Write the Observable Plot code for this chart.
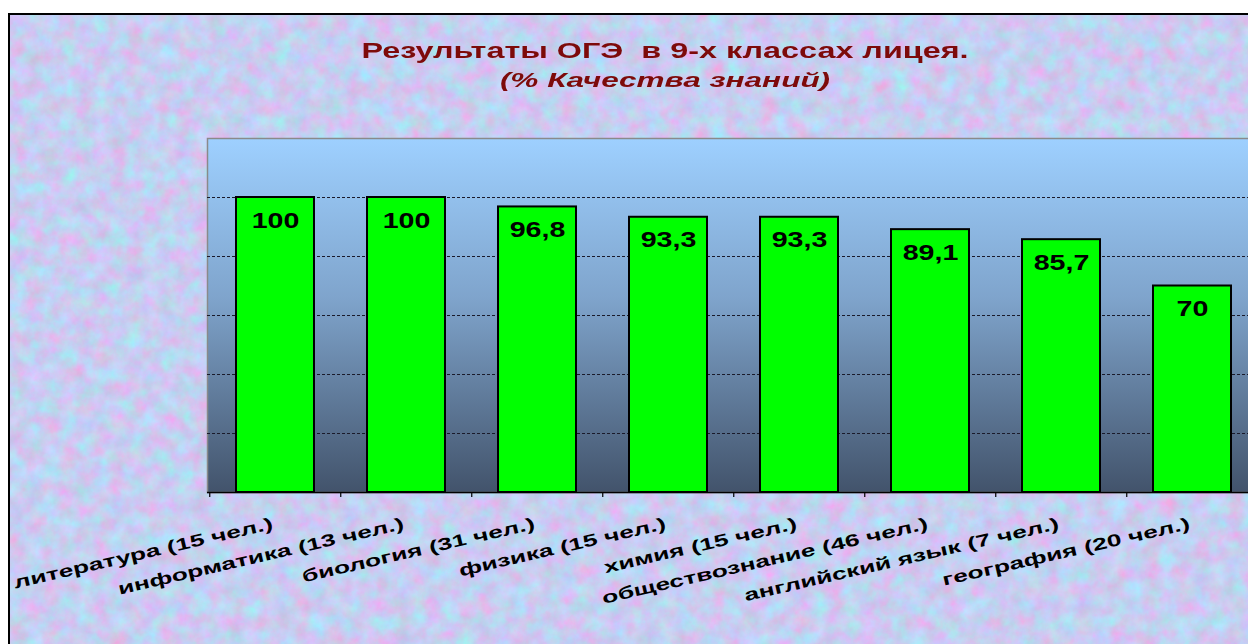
<!DOCTYPE html>
<html>
<head>
<meta charset="utf-8">
<script src="https://cdn.jsdelivr.net/npm/d3@7"></script>
<script src="https://cdn.jsdelivr.net/npm/@observablehq/plot@0.6"></script>
<style>
  html, body { margin: 0; padding: 0; width: 1248px; height: 644px; overflow: hidden; background: #fff; }
  #box {
    position: absolute; left: 8px; top: 13px; width: 1400px; height: 700px;
    border: 2px solid #000;
    background-color: #c6cef0;
    background-image: url("data:image/svg+xml;utf8,<svg xmlns='http://www.w3.org/2000/svg' width='1400' height='700'><filter id='n' x='0' y='0' width='100%' height='100%' color-interpolation-filters='sRGB'><feTurbulence type='fractalNoise' baseFrequency='0.06' numOctaves='5' seed='7'/><feColorMatrix values='0.3 -0.2 0 0 0.73  -0.15 0.27 0 0 0.745  0 0.06 0.15 0 0.84  0 0 0 0 1'/></filter><rect width='1400' height='700' filter='url(%23n)'/></svg>");
  }
  .title {
    position: absolute; left: 0; width: 1330px; text-align: center;
    font-family: "Liberation Sans", Arial, sans-serif; font-weight: bold; color: #7d0a0a;
    white-space: pre; transform-origin: 665px 0;
  }
  #t1 { top: 38px; font-size: 22px; transform: scaleX(1.47); }
  #t2 { top: 68px; font-size: 21px; font-style: italic; transform: scaleX(1.5); }
  #chart { position: absolute; left: 0; top: 0; }
</style>
</head>
<body>
<div id="box"></div>
<div class="title" id="t1">Результаты ОГЭ  в 9-х классах лицея.</div>
<div class="title" id="t2">(% Качества знаний)</div>
<div id="chart"></div>
<script>
const subjects = [
  "литература (15 чел.)",
  "информатика (13 чел.)",
  "биология (31 чел.)",
  "физика (15 чел.)",
  "химия (15 чел.)",
  "обществознание (46 чел.)",
  "английский язык (7 чел.)",
  "география (20 чел.)"
];
const quality = [100, 100, 96.8, 93.3, 93.3, 89.1, 85.7, 70];
const gridTicks = [20, 40, 60, 80, 100];

const data = subjects.map((s, i) => ({subject: s, value: quality[i]}));
const fmt = v => String(v).replace(".", ",");

const W = 1330, H = 644, ML = 207, MR = 71, MT = 138, MB = 152;
const step = (W - ML - MR) / subjects.length;
const pxPerUnit = (H - MT - MB) / 120;
const VALUE_STRETCH = 1.3;
const LABEL_STRETCH = 1.55;
const LABEL_ANGLE = -13;

const chart = Plot.plot({
  width: W, height: H,
  marginLeft: ML, marginRight: MR, marginTop: MT, marginBottom: MB,
  style: {background: "transparent", overflow: "visible", maxWidth: "none"},
  x: {domain: subjects, paddingInner: 0.407, paddingOuter: 0.2035, label: null},
  y: {domain: [0, 120], axis: null},
  marks: [
    Plot.frame({fill: "url(#plotbg)", stroke: "#8a8a8a", strokeWidth: 1.5}),
    Plot.ruleY(gridTicks, {stroke: "#1a1a2a", strokeWidth: 1, strokeDasharray: "3,2"}),
    Plot.barY(data, {x: "subject", y: "value", fill: "#00ff00", stroke: "#000", strokeWidth: 2}),
    Plot.text(data, {x: "subject", y: "value", text: d => fmt(d.value), dy: 23,
      fontSize: 22, fontWeight: "bold", fontFamily: "Liberation Sans", fill: "#000",
      className: "vlabel"}),
    Plot.ruleY([0], {stroke: "#000", strokeWidth: 1.5}),
    Plot.ruleX(subjects, {x: d => d, y1: 0, y2: -5 / pxPerUnit, dx: -step / 2, stroke: "#000", strokeWidth: 1.2}),
    Plot.axisX({tickSize: 0, tickRotate: LABEL_ANGLE, tickPadding: 31, dx: -3,
      fontSize: 17, fontWeight: "bold", fontFamily: "Liberation Sans", fill: "#000", label: null,
      className: "xlabel"})
  ]
});

const svg = d3.select(chart);
const defs = svg.insert("defs", ":first-child");
const g = defs.append("linearGradient").attr("id", "plotbg")
  .attr("x1", 0).attr("y1", 0).attr("x2", 0).attr("y2", 1);
g.append("stop").attr("offset", "0%").attr("stop-color", "#9ed0ff");
g.append("stop").attr("offset", "45%").attr("stop-color", "#7fa4cc");
g.append("stop").attr("offset", "100%").attr("stop-color", "#42536b");

document.getElementById("chart").appendChild(chart);

// horizontally stretch text glyphs along their baseline (as in the reference image)
function stretch(sel, k, angle) {
  sel.each(function() {
    const ctm = this.getCTM();
    const parent = this.parentNode.getCTM();
    const desired = chart.createSVGMatrix().translate(ctm.e, ctm.f).rotate(angle).scaleNonUniform(k, 1);
    const m = parent.inverse().multiply(desired);
    this.setAttribute("transform", `matrix(${m.a},${m.b},${m.c},${m.d},${m.e},${m.f})`);
  });
}
stretch(svg.selectAll(".vlabel text"), VALUE_STRETCH, 0);
stretch(svg.selectAll(".xlabel text"), LABEL_STRETCH, LABEL_ANGLE);
</script>
</body>
</html>
